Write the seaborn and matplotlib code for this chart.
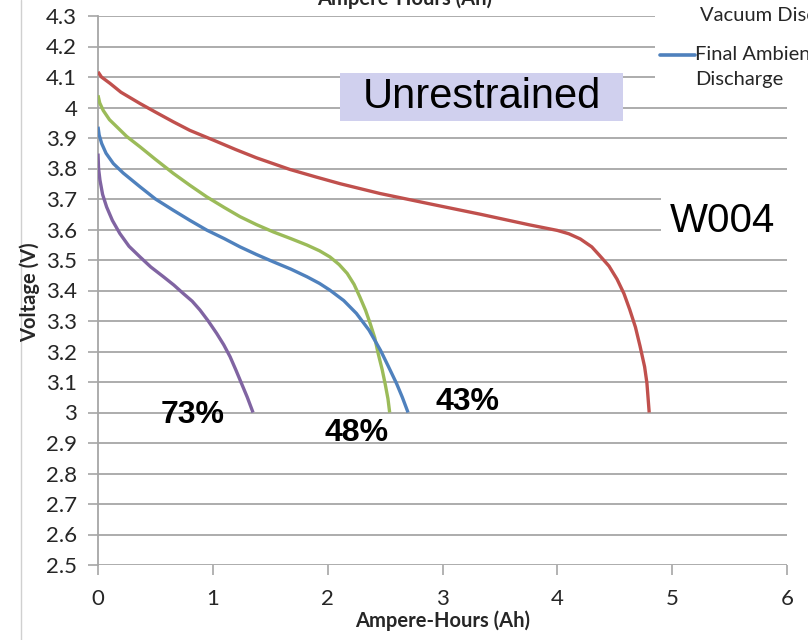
import numpy as np
import pandas as pd
import matplotlib
matplotlib.use("Agg")
import matplotlib.pyplot as plt
import seaborn as sns
from matplotlib.patches import Rectangle
from matplotlib.lines import Line2D

# ---- data ----
red_ah = [0.0, 0.03, 0.105, 0.2, 0.366, 0.5, 0.656, 0.8, 1.005, 1.2, 1.38, 1.67, 1.9, 2.11, 2.456,
          2.89, 3.33, 3.76, 4.0, 4.1, 4.2, 4.3, 4.37, 4.45, 4.52, 4.58, 4.63, 4.68, 4.72, 4.76, 4.78, 4.80]
red_v = [4.117, 4.10, 4.079, 4.05, 4.013, 3.985, 3.953, 3.925, 3.893, 3.862, 3.835, 3.797, 3.772, 3.75, 3.718,
         3.684, 3.65, 3.615, 3.597, 3.586, 3.569, 3.543, 3.514, 3.48, 3.437, 3.39, 3.338, 3.28, 3.218, 3.15, 3.097, 3.0]

green_ah = [0.0, 0.015, 0.046, 0.1, 0.163, 0.25, 0.366, 0.5, 0.656, 0.8, 0.947, 1.1, 1.237, 1.38, 1.527,
            1.68, 1.82, 1.93, 2.02, 2.1, 2.17, 2.23, 2.28, 2.33, 2.37, 2.41, 2.44, 2.475, 2.50, 2.525, 2.54]
green_v = [4.04, 4.015, 3.99, 3.96, 3.937, 3.905, 3.871, 3.83, 3.784, 3.745, 3.707, 3.672, 3.642, 3.616, 3.592,
           3.57, 3.549, 3.53, 3.51, 3.485, 3.456, 3.42, 3.379, 3.335, 3.292, 3.245, 3.193, 3.14, 3.095, 3.045, 3.0]

blue_ah = [0.0, 0.01, 0.032, 0.07, 0.134, 0.22, 0.366, 0.5, 0.656, 0.8, 0.947, 1.1, 1.237, 1.38, 1.527,
           1.68, 1.82, 1.93, 2.02, 2.14, 2.25, 2.36, 2.46, 2.53, 2.60, 2.65, 2.70]
blue_v = [3.937, 3.91, 3.882, 3.85, 3.816, 3.785, 3.74, 3.70, 3.663, 3.63, 3.598, 3.57, 3.543, 3.518, 3.494,
          3.47, 3.445, 3.423, 3.401, 3.367, 3.325, 3.27, 3.204, 3.15, 3.095, 3.05, 3.0]

purple_ah = [0.0, 0.005, 0.017, 0.04, 0.075, 0.125, 0.19, 0.27, 0.366, 0.46, 0.57, 0.66, 0.743, 0.82,
             0.888, 0.96, 1.034, 1.095, 1.15, 1.2, 1.25, 1.3, 1.35]
purple_v = [3.849, 3.80, 3.762, 3.715, 3.674, 3.63, 3.587, 3.545, 3.51, 3.477, 3.445, 3.418, 3.39, 3.365,
            3.336, 3.30, 3.259, 3.222, 3.183, 3.14, 3.095, 3.05, 3.0]

series_names = ["red", "green", "blue", "purple"]
series_colors = ["#C0504D", "#9BBB59", "#4F81BD", "#8064A2"]

y_ticks = [2.5, 2.6, 2.7, 2.8, 2.9, 3.0, 3.1, 3.2, 3.3, 3.4, 3.5, 3.6, 3.7, 3.8, 3.9, 4.0, 4.1, 4.2, 4.3]
y_tick_labels = ["2.5", "2.6", "2.7", "2.8", "2.9", "3", "3.1", "3.2", "3.3", "3.4", "3.5",
                 "3.6", "3.7", "3.8", "3.9", "4", "4.1", "4.2", "4.3"]
x_ticks = [0, 1, 2, 3, 4, 5, 6]

pct_labels = ["73%", "48%", "43%"]

# ---- build long table ----
frames = []
for name, ah, v in zip(series_names,
                       [red_ah, green_ah, blue_ah, purple_ah],
                       [red_v, green_v, blue_v, purple_v]):
    frames.append(pd.DataFrame({"Ah": ah, "V": v, "series": name}))
df = pd.concat(frames, ignore_index=True)

sns.set_style("white")
plt.rcParams["font.family"] = ["Lato", "DejaVu Sans"]

W, H = 808, 640
fig = plt.figure(figsize=(W / 100, H / 100), dpi=100)
ax = fig.add_axes([98 / W, 1 - 565 / H, (787 - 98) / W, (565 - 16) / H])

grid_c = "#A6A6A6"
txt_c = "#262626"
for yv in y_ticks:
    ax.axhline(yv, color=grid_c, lw=1.3, zorder=1)

sns.lineplot(data=df, x="Ah", y="V", hue="series", palette=dict(zip(series_names, series_colors)),
             sort=False, estimator=None, units="series", lw=2.4, legend=False, ax=ax, zorder=3)
for ln in ax.get_lines():
    ln.set_solid_joinstyle("round")
    ln.set_solid_capstyle("butt")

ax.set_xlim(0, 6)
ax.set_ylim(2.5, 4.3)
ax.set_xticks(x_ticks)
ax.set_xticklabels([str(t) for t in x_ticks], fontsize=16, color=txt_c)
ax.set_yticks(y_ticks)
ax.set_yticklabels(y_tick_labels, fontsize=16, color=txt_c)
ax.tick_params(axis="both", which="both", direction="out", length=7, width=1.2, color=grid_c,
               left=True, bottom=True, pad=8)
ax.tick_params(axis="x", pad=10)
for s in ["top", "right", "bottom"]:
    ax.spines[s].set_visible(False)
ax.spines["left"].set_color(grid_c)
ax.spines["left"].set_linewidth(1.3)
ax.set_xlabel("")
ax.set_ylabel("")

# axis titles
fig.text(443 / W, 1 - 621 / H, "Ampere-Hours (Ah)", ha="center", va="center",
         fontsize=14.5, fontweight="bold", color=txt_c)
fig.text(30 / W, 1 - 292 / H, "Voltage (V)", ha="center", va="center", rotation=90,
         fontsize=14.5, fontweight="bold", color=txt_c)
# cut-off top title (only lower part visible in the reference)
fig.text(405 / W, 1 - 5 / H, "Ampere-Hours (Ah)", ha="center", va="baseline",
         fontsize=14.5, fontweight="bold", color=txt_c)

# thin left border line
fig.add_artist(Line2D([21 / W, 21 / W], [0, 1], color="#D0D0D0", lw=1.0))

# partial legend box (top right)
fig.add_artist(Rectangle((655 / W, 1 - 90 / H), (W - 655) / W, 90 / H, facecolor="white",
                         edgecolor="none", transform=fig.transFigure, zorder=5))
fig.text(700 / W, 1 - 16 / H, "Vacuum Discharge", ha="left", va="center", fontsize=14.5,
         color=txt_c, zorder=6)
fig.add_artist(Line2D([660 / W, 695 / W], [1 - 55 / H, 1 - 55 / H], color="#4F81BD", lw=2.6,
                      zorder=6))
fig.text(695 / W, 1 - 55 / H, "Final Ambient", ha="left", va="center", fontsize=14.5,
         color=txt_c, zorder=6)
fig.text(695 / W, 1 - 80 / H, "Discharge", ha="left", va="center", fontsize=14.5,
         color=txt_c, zorder=6)

# Unrestrained box
fig.add_artist(Rectangle((340 / W, 1 - 121 / H), (623 - 340) / W, 48 / H, facecolor="#D0D0EE",
                         edgecolor="none", transform=fig.transFigure, zorder=5))
fig.text(482 / W, 1 - 97 / H, "Unrestrained", ha="center", va="center", fontsize=30,
         family="Liberation Sans", color="black", zorder=6)

# W004 label with white box
fig.add_artist(Rectangle((661 / W, 1 - 246 / H), (W - 661) / W, 62 / H, facecolor="white",
                         edgecolor="none", transform=fig.transFigure, zorder=5))
fig.text(722 / W, 1 - 221 / H, "W004", ha="center", va="center", fontsize=29,
         family="Liberation Sans", color="black", zorder=6)

# percentage labels
pct_pos = [(193, 415), (357, 433), (468, 402)]
for lab, (px, py) in zip(pct_labels, pct_pos):
    fig.text(px / W, 1 - py / H, lab, ha="center", va="center", fontsize=23, fontweight="bold",
             family="Liberation Sans", color="black", zorder=6)

fig.savefig("out.png", dpi=100)
